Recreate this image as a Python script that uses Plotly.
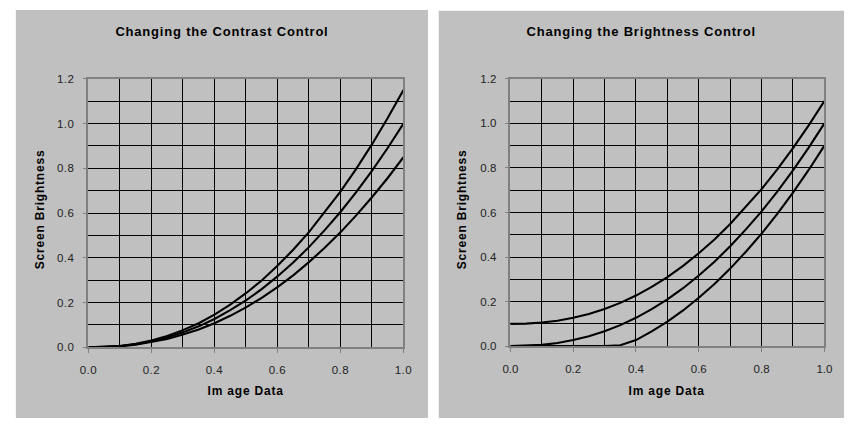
import plotly.graph_objects as go

W, H = 852, 424

x_vals = [0.0, 0.05, 0.1, 0.15, 0.2, 0.25, 0.3, 0.35, 0.4, 0.45, 0.5,
          0.55, 0.6, 0.65, 0.7, 0.75, 0.8, 0.85, 0.9, 0.95, 1.0]

# Contrast control panel
contrast_high = [0, 0.0014, 0.0064, 0.016, 0.031, 0.051, 0.077, 0.108, 0.146, 0.191, 0.242,
                 0.299, 0.365, 0.436, 0.515, 0.603, 0.696, 0.798, 0.907, 1.025, 1.15]
contrast_mid = [0, 0.0012, 0.0056, 0.014, 0.027, 0.044, 0.067, 0.094, 0.127, 0.166, 0.210,
                0.260, 0.317, 0.379, 0.448, 0.524, 0.605, 0.694, 0.789, 0.891, 1.0]
contrast_low = [0, 0.001, 0.0048, 0.012, 0.023, 0.037, 0.057, 0.080, 0.108, 0.141, 0.179,
                0.221, 0.269, 0.322, 0.381, 0.445, 0.514, 0.590, 0.671, 0.757, 0.85]

# Brightness control panel
bright_high = [0.1, 0.101, 0.106, 0.114, 0.127, 0.144, 0.167, 0.194, 0.227, 0.266, 0.310,
               0.360, 0.417, 0.479, 0.548, 0.624, 0.705, 0.794, 0.889, 0.991, 1.1]
bright_mid = contrast_mid
bright_low = [0, 0, 0, 0, 0, 0, 0, 0.004, 0.027, 0.066, 0.110,
              0.160, 0.217, 0.279, 0.348, 0.424, 0.505, 0.594, 0.689, 0.791, 0.9]

titles = ["Changing the Contrast Control", "Changing the Brightness Control"]
x_title = "Im age Data"
y_title = "Screen Brightness"
x_ticks = [0.0, 0.2, 0.4, 0.6, 0.8, 1.0]
y_ticks = [0.0, 0.2, 0.4, 0.6, 0.8, 1.0, 1.2]

FONT = "Liberation Sans, Arial, sans-serif"
PANEL = "#c0c0c0"

def px_x(p):
    return p / W

def px_y(p):
    return 1 - p / H

# pixel geometry
panels = [(8, 4, 428, 424), (439, 5, 852, 424)]
plots = [(82, 75, 403, 351.3), (512, 75, 832, 350)]

fig = go.Figure()

series = [
    (contrast_high, contrast_mid, contrast_low),
    (bright_high, bright_mid, bright_low),
]

for i, group in enumerate(series):
    xa = "x" if i == 0 else "x2"
    ya = "y" if i == 0 else "y2"
    for s in group:
        fig.add_trace(go.Scatter(x=x_vals, y=s, mode="lines", xaxis=xa, yaxis=ya,
                                 line=dict(color="black", width=2.1), showlegend=False,
                                 hoverinfo="skip", cliponaxis=True))

shapes = []
for (x0, y0, x1, y1) in panels:
    shapes.append(dict(type="rect", xref="paper", yref="paper", layer="below",
                       x0=px_x(x0), x1=px_x(x1), y0=px_y(y1), y1=px_y(y0),
                       fillcolor=PANEL, line=dict(width=0)))

axis_common = dict(showline=True, linecolor="#808080", linewidth=1.5, mirror=True,
                   ticks="outside", ticklen=4, tickcolor="#808080", tickwidth=1,
                   showgrid=True, gridcolor="black", gridwidth=1, zeroline=False,
                   tickfont=dict(family=FONT, size=11.5, color="#222222"),
                   minor=dict(dtick=0.1, showgrid=True, gridcolor="black", gridwidth=1, ticks=""))

layout = dict(width=W, height=H, margin=dict(l=0, r=0, t=0, b=0),
              paper_bgcolor="white", plot_bgcolor="rgba(0,0,0,0)",
              shapes=shapes, showlegend=False)

annotations = []
for i, (px0, py0, px1, py1) in enumerate(plots):
    sfx = "" if i == 0 else "2"
    layout["xaxis" + sfx] = dict(axis_common, domain=[px_x(px0), px_x(px1)], range=[0, 1],
                                 tickvals=x_ticks, ticktext=[f"{v:.1f}" for v in x_ticks],
                                 anchor="y" + sfx, ticklabelstandoff=7)
    layout["yaxis" + sfx] = dict(axis_common, domain=[px_y(py1), px_y(py0)], range=[0, 1.2],
                                 tickvals=y_ticks, ticktext=[f"{v:.1f}" for v in y_ticks],
                                 anchor="x" + sfx, ticklabelstandoff=6)
    pnl = panels[i]
    annotations.append(dict(text="<b>" + titles[i] + "</b>", xref="paper", yref="paper",
                            x=px_x((pnl[0] + pnl[2]) / 2), y=px_y(26), showarrow=False,
                            xanchor="center", yanchor="middle",
                            font=dict(family=FONT, size=13, color="black")))
    annotations.append(dict(text="<b>" + x_title + "</b>", xref="paper", yref="paper",
                            x=px_x((px0 + px1) / 2), y=px_y(396.5), showarrow=False,
                            xanchor="center", yanchor="middle",
                            font=dict(family=FONT, size=12, color="black")))
    annotations.append(dict(text="<b>" + y_title + "</b>", xref="paper", yref="paper",
                            x=px_x(px0 - 49), y=px_y(209), showarrow=False, textangle=-90,
                            xanchor="center", yanchor="middle",
                            font=dict(family=FONT, size=12, color="black")))

layout["annotations"] = annotations
fig.update_layout(**layout)

post = (
    "var gd=document.getElementById('{plot_id}');"
    "document.documentElement.style.margin='0';document.documentElement.style.padding='0';"
    "document.documentElement.style.overflow='hidden';"
    "document.body.style.margin='0';document.body.style.padding='0';document.body.style.overflow='hidden';"
    "gd.style.position='absolute';gd.style.left='0px';gd.style.top='0px';"
    "var st=document.createElement('style');"
    "st.textContent='.annotation-text{letter-spacing:0.8px} .xtick text,.ytick text{letter-spacing:0.5px}';"
    "document.head.appendChild(st);"
)
fig.write_html("out.html", config={"displayModeBar": False}, post_script=post)
